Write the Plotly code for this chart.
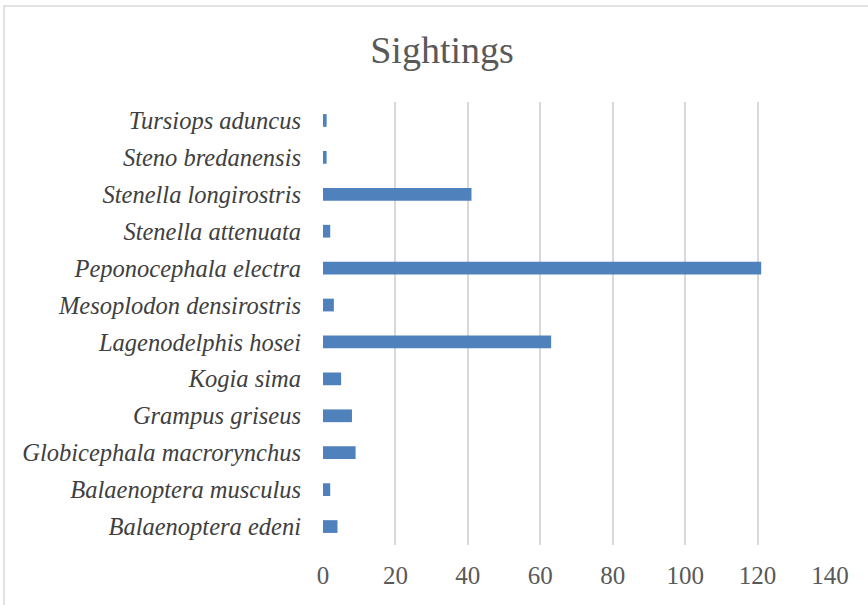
import plotly.graph_objects as go

# Species sighted (bottom to top as drawn on the category axis)
species = [
    "Balaenoptera edeni",
    "Balaenoptera musculus",
    "Globicephala macrorynchus",
    "Grampus griseus",
    "Kogia sima",
    "Lagenodelphis hosei",
    "Mesoplodon densirostris",
    "Peponocephala electra",
    "Stenella attenuata",
    "Stenella longirostris",
    "Steno bredanensis",
    "Tursiops aduncus",
]
sightings = [4, 2, 9, 8, 5, 63, 3, 121, 2, 41, 1, 1]

x_ticks = [0, 20, 40, 60, 80, 100, 120, 140]

W, H = 868, 605
ML, MR, MT, MB = 323, 38, 102, 60
pw, ph = W - ML - MR, H - MT - MB


def px_x(px):
    return (px - ML) / pw


def px_y(py):
    return (H - MB - py) / ph


fig = go.Figure(
    go.Bar(
        x=sightings,
        y=species,
        orientation="h",
        marker=dict(color="#4F81BD", line=dict(width=0)),
        width=0.345,
    )
)

fig.update_layout(
    width=W,
    height=H,
    margin=dict(l=ML, r=MR, t=MT, b=MB, pad=0),
    paper_bgcolor="white",
    plot_bgcolor="white",
    showlegend=False,
    title=dict(
        text="Sightings",
        x=442 / W,
        xanchor="center",
        y=1 - 50 / H,
        yanchor="middle",
        font=dict(family="Liberation Serif", size=38, color="#595959"),
    ),
    xaxis=dict(
        range=[0, 140],
        tickvals=x_ticks,
        showgrid=True,
        gridcolor="#D9D9D9",
        gridwidth=1.5,
        zeroline=False,
        showline=False,
        ticks="",
        tickfont=dict(family="Liberation Serif", size=25, color="#595959"),
        ticklabelstandoff=13,
    ),
    yaxis=dict(
        categoryorder="array",
        categoryarray=species,
        showgrid=False,
        zeroline=False,
        showline=False,
        ticks="",
        tickfont=dict(family="Liberation Serif", size=24.5, color="#404040"),
        ticklabelstandoff=21,
    ),
    font=dict(family="Liberation Serif"),
)

# Italic species names
fig.update_yaxes(tickvals=species, ticktext=[f"<i>{s}</i>" for s in species])

# Chart frame
fig.add_shape(
    type="rect",
    xref="paper", yref="paper",
    x0=px_x(4), y0=px_y(H + 20), x1=px_x(W + 20), y1=px_y(6),
    line=dict(color="#D9D9D9", width=1.5),
    fillcolor="rgba(0,0,0,0)",
    layer="below",
)

fig.write_html("out.html")
